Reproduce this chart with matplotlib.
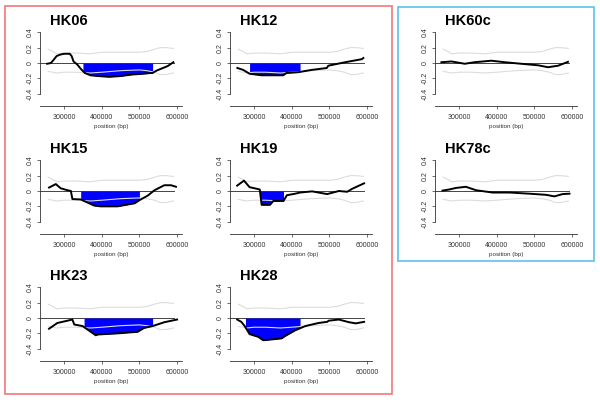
import numpy as np
import matplotlib
matplotlib.use("Agg")
import matplotlib.pyplot as plt
from matplotlib.patches import Rectangle

plt.rcParams['font.family'] = ['Liberation Sans', 'DejaVu Sans']

# shared grey envelope (upper / lower bounds)
env_x = [258000, 270000, 280000, 300000, 330000, 370000, 400000, 450000,
         500000, 520000, 540000, 555000, 570000, 590000]
env_up = [0.18, 0.15, 0.12, 0.13, 0.13, 0.12, 0.14, 0.14, 0.14, 0.15, 0.18, 0.20, 0.20, 0.19]
env_lo = [-0.11, -0.12, -0.13, -0.12, -0.12, -0.13, -0.12, -0.10, -0.09, -0.10, -0.12, -0.15, -0.15, -0.13]

# HK06
hk06_x = [255000, 265000, 272000, 280000, 290000, 300000, 315000, 320000, 325000, 335000,
          345000, 355000, 370000, 390000, 420000, 450000, 480000, 510000, 530000, 535000,
          545000, 560000, 575000, 590000]
hk06_y = [-0.01, 0.0, 0.04, 0.09, 0.11, 0.12, 0.12, 0.09, 0.02, -0.02, -0.08, -0.13, -0.16,
          -0.17, -0.18, -0.17, -0.15, -0.14, -0.13, -0.13, -0.10, -0.07, -0.04, 0.01]
hk06_fill = (350000, 535000)

# HK12
hk12_x = [255500, 271000, 288000, 320000, 355000, 377000, 386000, 417000, 453000, 493000,
          497000, 542000, 586000, 590000]
hk12_y = [-0.065, -0.09, -0.14, -0.16, -0.16, -0.16, -0.13, -0.12, -0.09, -0.065, -0.035,
          0.01, 0.05, 0.065]
hk12_fill = (288000, 422000)

# HK60c
hk60_x = [253000, 280000, 315000, 341000, 386000, 421000, 465000, 510000, 536000, 563000, 589000]
hk60_y = [0.01, 0.02, -0.01, 0.01, 0.03, 0.01, -0.01, -0.03, -0.055, -0.035, 0.015]

# HK15
hk15_x = [260000, 278000, 291000, 309000, 318000, 322000, 344000, 380000, 397000, 442000,
          487000, 500000, 522000, 540000, 566000, 584000, 597000]
hk15_y = [0.045, 0.09, 0.035, 0.01, 0.0, -0.105, -0.11, -0.19, -0.2, -0.2, -0.16, -0.12,
          -0.06, 0.01, 0.075, 0.075, 0.055]
hk15_fill = (344000, 500000)

# HK19
hk19_x = [255000, 273000, 288000, 315000, 320000, 342000, 351000, 378000, 387000, 409000,
          422000, 454000, 494000, 525000, 547000, 561000, 592000]
hk19_y = [0.07, 0.135, 0.05, 0.02, -0.18, -0.18, -0.13, -0.13, -0.055, -0.035, -0.02,
          -0.005, -0.04, 0.0, -0.01, 0.03, 0.1]
hk19_fill = (317000, 378000)

# HK78c
hk78_x = [256000, 274000, 292000, 318000, 345000, 389000, 434000, 487000, 531000, 553000, 575000, 593000]
hk78_y = [0.005, 0.02, 0.04, 0.055, 0.01, -0.02, -0.02, -0.035, -0.05, -0.07, -0.04, -0.035]

# HK23
hk23_x = [260000, 282000, 300000, 322000, 327000, 349000, 384000, 389000, 442000, 495000,
          512000, 535000, 566000, 600000]
hk23_y = [-0.14, -0.065, -0.045, -0.02, -0.085, -0.105, -0.225, -0.215, -0.2, -0.18,
          -0.13, -0.105, -0.055, -0.02]
hk23_fill = (353000, 535000)

# HK28
hk28_x = [255000, 266000, 275000, 288000, 311000, 324000, 355000, 373000, 382000, 409000,
          436000, 471000, 494000, 498000, 525000, 552000, 570000, 592000]
hk28_y = [-0.02, -0.05, -0.105, -0.21, -0.245, -0.29, -0.275, -0.265, -0.235, -0.16,
          -0.105, -0.065, -0.05, -0.035, -0.02, -0.055, -0.07, -0.05]
hk28_fill = (277000, 422000)

# name, x, y, fill range, column, row
panels = [
    ("HK06", hk06_x, hk06_y, hk06_fill, 0, 0),
    ("HK12", hk12_x, hk12_y, hk12_fill, 1, 0),
    ("HK60c", hk60_x, hk60_y, None, 2, 0),
    ("HK15", hk15_x, hk15_y, hk15_fill, 0, 1),
    ("HK19", hk19_x, hk19_y, hk19_fill, 1, 1),
    ("HK78c", hk78_x, hk78_y, None, 2, 1),
    ("HK23", hk23_x, hk23_y, hk23_fill, 0, 2),
    ("HK28", hk28_x, hk28_y, hk28_fill, 1, 2),
]

W, H = 600, 400
col_left = [40, 230, 435]
row_top = [20, 148, 275]
ax_w, ax_h = 142, 86

fig = plt.figure(figsize=(6, 4), dpi=100)

def px_rect(l, t, w, h):
    return [l / W, 1 - (t + h) / H, w / W, h / H]

for name, x, y, fr, c, r in panels:
    ax = fig.add_axes(px_rect(col_left[c], row_top[r], ax_w, ax_h))
    ax.set_xlim(236000, 613000)
    ax.set_ylim(-0.56, 0.56)
    ax.plot([236000, 592000], [0, 0], color='#444444', lw=0.7, zorder=1)
    if fr is not None:
        xf = np.linspace(fr[0], fr[1], 200)
        yf = np.interp(xf, x, y)
        ax.fill_between(xf, 0, yf, color='#0000ff', lw=0, zorder=2)
    ax.plot(env_x, env_up, color='#dcdcdc', lw=0.8, zorder=3)
    ax.plot(env_x, env_lo, color='#dcdcdc', lw=0.8, zorder=3)
    ax.plot(x, y, color='black', lw=1.4, zorder=4)

    for s in ['top', 'right']:
        ax.spines[s].set_visible(False)
    ax.spines['left'].set_bounds(-0.4, 0.4)
    ax.spines['left'].set_linewidth(0.6)
    ax.spines['bottom'].set_linewidth(0.6)
    ax.spines['left'].set_color('#333333')
    ax.spines['bottom'].set_color('#333333')
    ax.set_xticks([300000, 400000, 500000, 600000])
    ax.set_xticklabels(['300000', '400000', '500000', '600000'])
    ax.set_yticks([-0.4, -0.2, 0, 0.2, 0.4])
    ax.set_yticklabels(['-0.4', '-0.2', '0', '0.2', '0.4'], rotation=90, va='center')
    ax.tick_params(labelsize=5, length=2.2, width=0.5, colors='#333333')
    ax.tick_params(axis='x', pad=3.5)
    ax.tick_params(axis='y', pad=2.5)
    ax.set_xlabel('position (bp)', fontsize=4.5, labelpad=2, color='#333333')
    ax.patch.set_alpha(0)

    fig.text((col_left[c] + 10) / W, 1 - (row_top[r] + 8) / H, name,
             fontsize=10.5, fontweight='bold', va='bottom', ha='left')

# grouping boxes
fig.add_artist(Rectangle((5 / W, 1 - 394 / H), 387 / W, 388 / H, transform=fig.transFigure,
                         fill=False, edgecolor='#f07878', lw=1.2))
fig.add_artist(Rectangle((398 / W, 1 - 261 / H), 196 / W, 254 / H, transform=fig.transFigure,
                         fill=False, edgecolor='#5ec0ec', lw=1.2))

fig.savefig('out.png', dpi=100)
